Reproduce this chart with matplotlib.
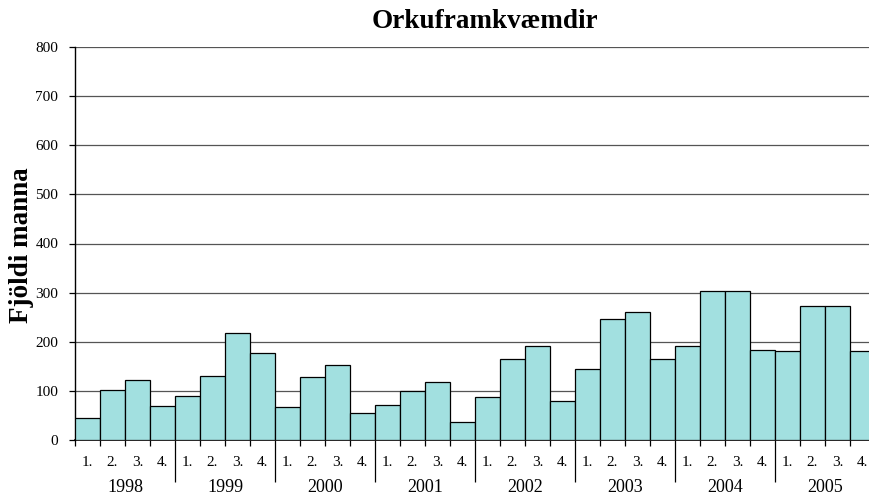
import matplotlib
matplotlib.use("Agg")
import matplotlib.pyplot as plt
import numpy as np

years = ["1998", "1999", "2000", "2001", "2002", "2003", "2004", "2005"]
quarters = ["1.", "2.", "3.", "4."]
values = [45, 101, 122, 70,
          89, 130, 218, 178,
          67, 128, 152, 54,
          72, 99, 118, 36,
          87, 165, 191, 79,
          144, 246, 261, 164,
          191, 303, 303, 183,
          181, 273, 273, 181]
yticks = [0, 100, 200, 300, 400, 500, 600, 700, 800]

plt.rcParams['font.family'] = ['Liberation Serif', 'DejaVu Serif']

W, H = 869, 497
fig = plt.figure(figsize=(W / 100, H / 100), dpi=100)
left, right, bottom, top = 75, 875, 440, 47
ax = fig.add_axes([left / W, (H - bottom) / H, (right - left) / W, (bottom - top) / H])

n = len(values)
x = np.arange(n)
ax.bar(x, values, width=1.0, align='edge', color='#A2E0E0', edgecolor='black', linewidth=0.9, zorder=3)

ax.set_xlim(0, n)
ax.set_ylim(0, 800)
ax.set_yticks(yticks)
ax.set_yticklabels([str(v) for v in yticks], fontsize=11)
ax.yaxis.grid(True, color='#555555', linewidth=0.9)
ax.set_axisbelow(True)
ax.tick_params(axis='y', direction='out', length=4, width=0.9, pad=8)

for s in ['top', 'right']:
    ax.spines[s].set_visible(False)
ax.spines['left'].set_linewidth(1.0)
ax.spines['bottom'].set_linewidth(1.2)

year_bounds = list(range(4, n, 4))
minor = [i for i in range(0, n + 1) if i not in year_bounds]
ax.set_xticks(year_bounds)
ax.set_xticks(minor, minor=True)
ax.set_xticklabels([])
ax.tick_params(axis='x', which='major', direction='out', length=30, width=0.9)
ax.tick_params(axis='x', which='minor', direction='out', length=4, width=0.9)

for i in range(n):
    ax.annotate(quarters[i % 4], xy=(i + 0.5, H - 463), xycoords=('data', 'figure pixels'),
                ha='center', va='center', fontsize=11, annotation_clip=False)
for j, yr in enumerate(years):
    ax.annotate(yr, xy=(j * 4 + 2, H - 488), xycoords=('data', 'figure pixels'),
                ha='center', va='center', fontsize=13, annotation_clip=False)

fig.text(485 / W, (H - 22) / H, "Orkuframkvæmdir", ha='center', va='center',
         fontsize=19.5, fontweight='bold')
fig.text(22 / W, (H - 245) / H, "Fjöldi manna", ha='center', va='center',
         rotation=90, fontsize=19.5, fontweight='bold')

fig.savefig("out.png", dpi=100)
